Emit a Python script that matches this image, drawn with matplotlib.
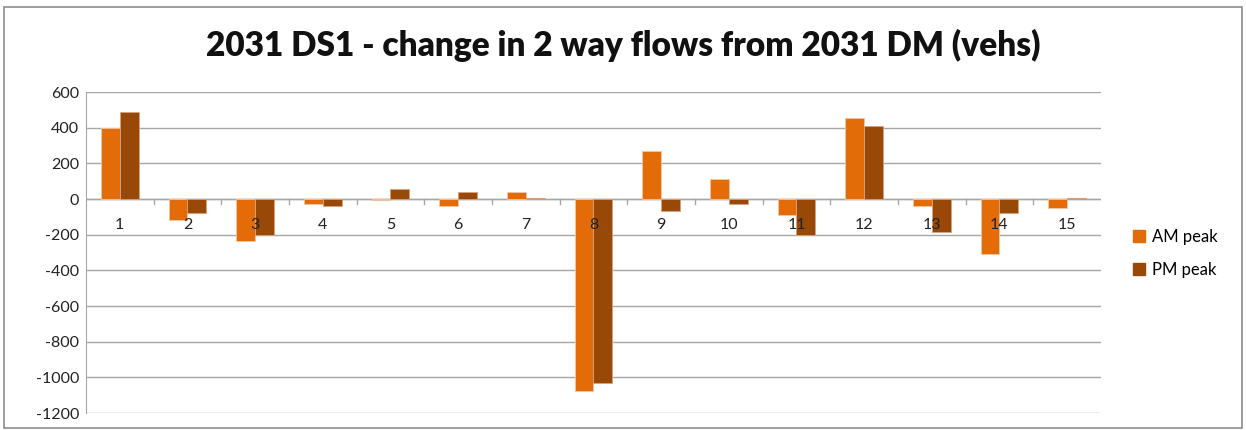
import numpy as np
import matplotlib
matplotlib.use("Agg")
import matplotlib.pyplot as plt
from matplotlib.patches import Rectangle
from matplotlib.lines import Line2D

plt.rcParams["font.family"] = ["Lato", "DejaVu Sans"]

categories = [str(i) for i in range(1, 16)]
am_peak = [400, -116, -237, -30, -8, -41, 39, -1074, 267, 114, -90, 457, -38, -306, -53]
pm_peak = [490, -78, -204, -41, 56, 41, 7, -1034, -67, -30, -200, 409, -187, -78, 7]
yticks = [600, 400, 200, 0, -200, -400, -600, -800, -1000, -1200]

AM_COLOR = "#E36C09"
PM_COLOR = "#984807"

fig = plt.figure(figsize=(12.46, 4.30), dpi=100)
ax = fig.add_axes([0.069, 0.0395, 0.8146, 0.7465])

x = np.arange(len(categories))
width = 0.28
ax.bar(x - width / 2, am_peak, width, color=AM_COLOR, edgecolor="#F4C7A0", linewidth=0.6, zorder=3)
ax.bar(x + width / 2, pm_peak, width, color=PM_COLOR, edgecolor="#D9A27A", linewidth=0.6, zorder=3)

ax.set_xlim(-0.5, len(categories) - 0.5)
ax.set_ylim(-1200, 600)
ax.set_yticks(yticks)
ax.set_yticklabels([str(v) for v in yticks], fontsize=11.5, color="#222222")
ax.tick_params(axis="y", length=0, pad=5)
ax.set_xticks([])
ax.grid(True, axis="y", color="#A6A6A6", linewidth=1.0, zorder=0)

for s in ["top", "right", "bottom"]:
    ax.spines[s].set_visible(False)
ax.spines["left"].set_color("#A6A6A6")

# category axis at zero with tick marks between categories
ax.axhline(0, color="#A6A6A6", linewidth=1.0, zorder=2)
for b in np.arange(0.5, len(categories) - 0.5, 1):
    ax.plot([b, b], [0, -28], color="#A6A6A6", linewidth=1.0, zorder=2)
for xi, lab in zip(x, categories):
    ax.annotate(lab, (xi, 0), xytext=(0, -19), textcoords="offset points",
                ha="center", va="center", fontsize=11.5, color="#222222", zorder=4)

fig.text(0.5, 0.895, "2031 DS1 - change in 2 way flows from 2031 DM (vehs)",
         ha="center", va="center", fontsize=24, fontweight="heavy", color="#111111")

handles = [Line2D([0], [0], marker="s", linestyle="none", markersize=8, color=AM_COLOR),
           Line2D([0], [0], marker="s", linestyle="none", markersize=8, color=PM_COLOR)]
fig.legend(handles, ["AM peak", "PM peak"], loc="center left", bbox_to_anchor=(0.895, 0.411),
           frameon=False, fontsize=12, handletextpad=0.3, labelspacing=1.0, handlelength=1.0)

fig.patches.append(Rectangle((0.003, 0.004), 0.994, 0.98, transform=fig.transFigure,
                             fill=False, edgecolor="#8C8C8C", linewidth=1.2))

plt.savefig("out.png", dpi=100)
plt.close()
